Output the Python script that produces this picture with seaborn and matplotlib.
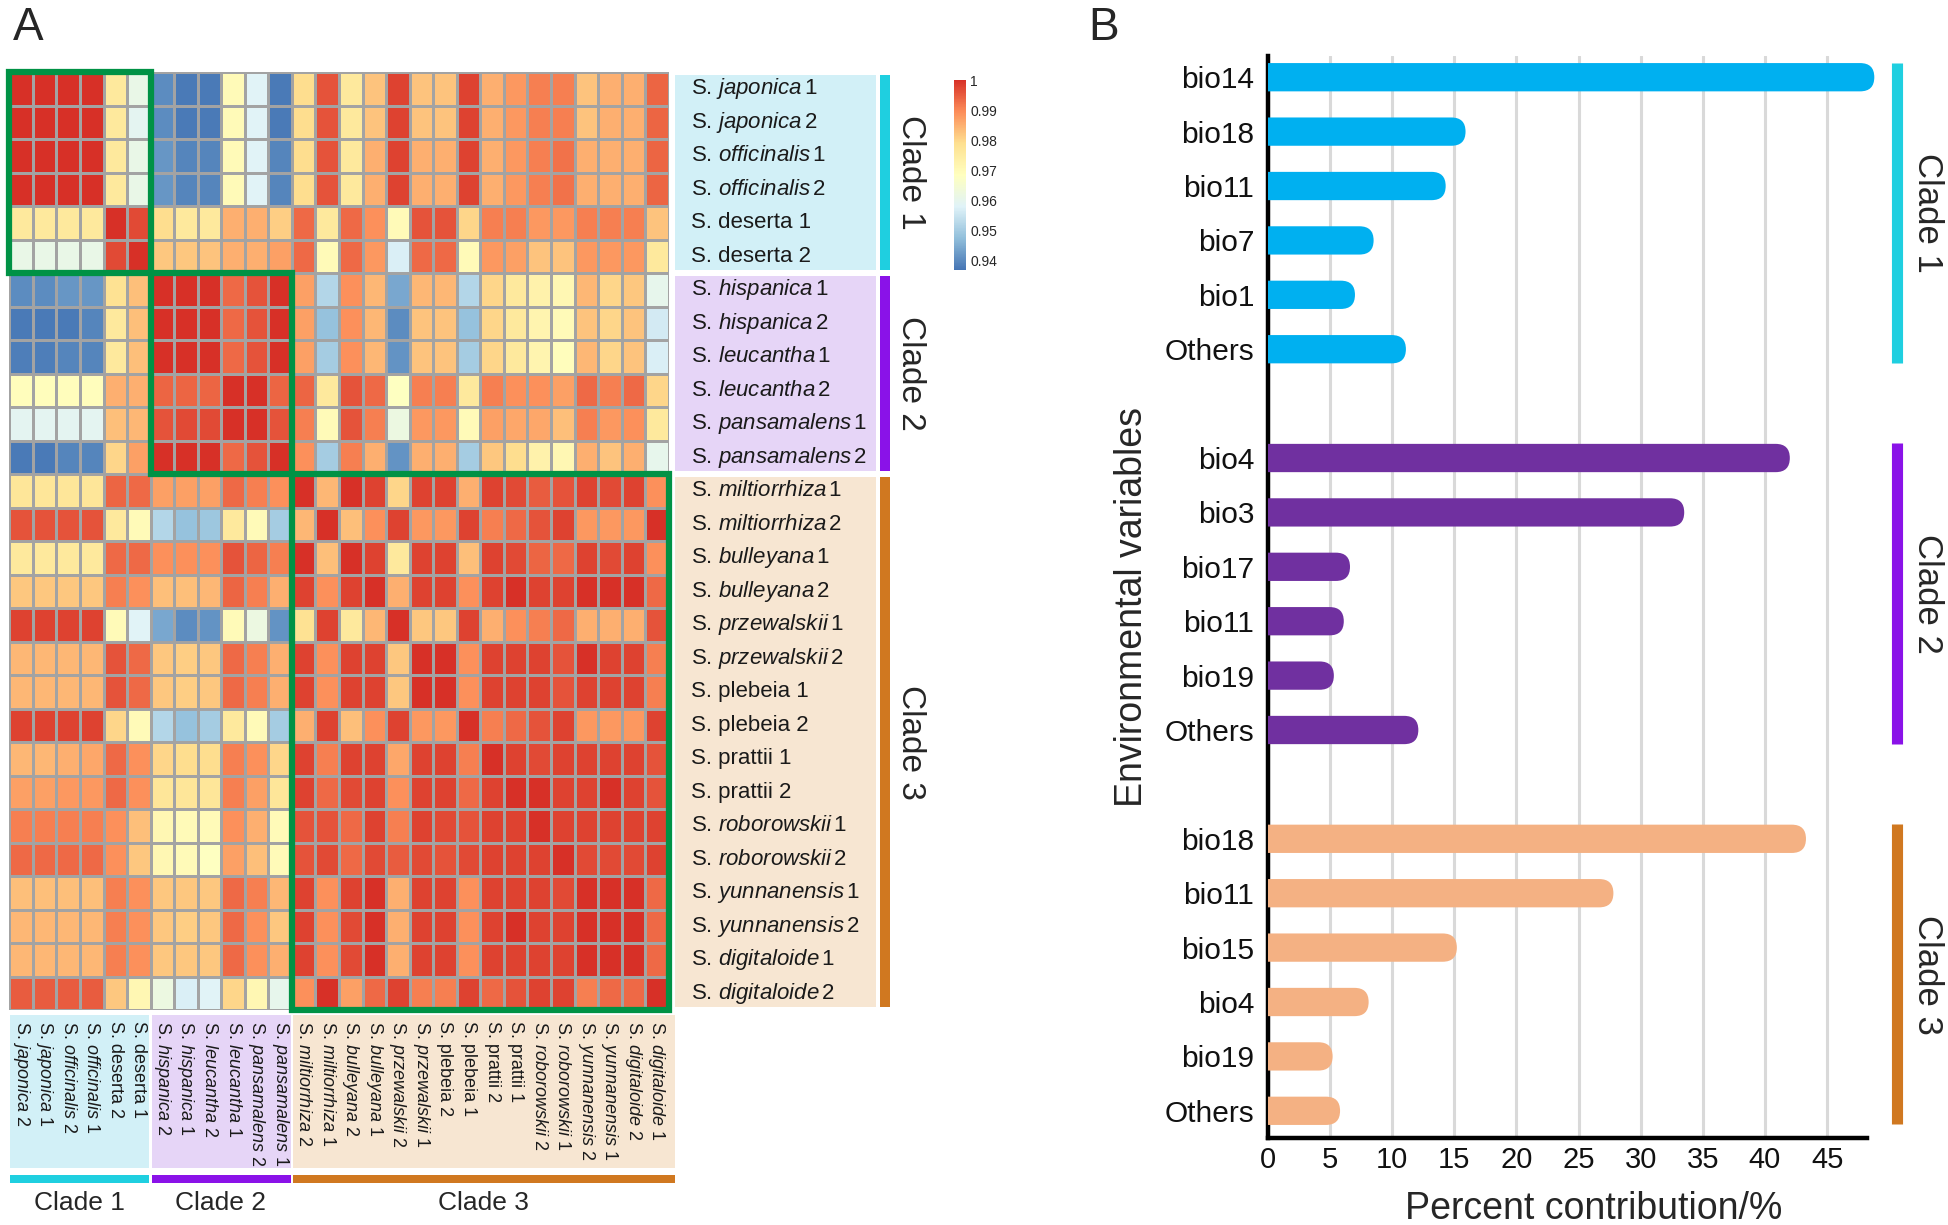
import numpy as np
import pandas as pd
import matplotlib
matplotlib.use("Agg")
import matplotlib.pyplot as plt
from matplotlib.colors import LinearSegmentedColormap
from matplotlib.patches import Rectangle, FancyBboxPatch
import seaborn as sns

sns.set_style("white")
plt.rcParams["font.family"] = ["Liberation Sans", "DejaVu Sans"]
plt.rcParams["mathtext.fontset"] = "custom"
plt.rcParams["mathtext.rm"] = "Liberation Sans"
plt.rcParams["mathtext.it"] = "Liberation Sans:italic"

# ---------------- data: panel A ----------------
species = ["japonica", "officinalis", "deserta", "hispanica", "leucantha", "pansamalens",
           "miltiorrhiza", "bulleyana", "przewalskii", "plebeia", "prattii", "roborowskii",
           "yunnanensis", "digitaloide"]
upright = ["deserta", "plebeia", "prattii"]
clades = ["Clade 1", "Clade 2", "Clade 3"]
clade_size = [6, 6, 16]
cbar_ticks = [1.0, 0.99, 0.98, 0.97, 0.96, 0.95, 0.94]
cbar_labels = ["1", "0.99", "0.98", "0.97", "0.96", "0.95", "0.94"]

corr = [
    [1.000, 1.000, 1.000, 1.000, 0.976, 0.961, 0.940, 0.9375, 0.9375, 0.970, 0.958, 0.9375, 0.979, 0.996, 0.976, 0.9825, 0.998, 0.9825, 0.9825, 0.998, 0.985, 0.988, 0.991, 0.991, 0.9825, 0.985, 0.985, 0.994],
    [1.000, 1.000, 1.000, 1.000, 0.976, 0.959, 0.940, 0.9375, 0.9375, 0.970, 0.958, 0.9375, 0.979, 0.996, 0.976, 0.9825, 0.998, 0.9825, 0.9825, 0.998, 0.985, 0.988, 0.991, 0.991, 0.9825, 0.985, 0.985, 0.994],
    [1.000, 1.000, 1.000, 1.000, 0.976, 0.961, 0.9415, 0.939, 0.939, 0.970, 0.958, 0.939, 0.979, 0.996, 0.976, 0.985, 0.998, 0.985, 0.985, 0.998, 0.985, 0.988, 0.991, 0.9925, 0.985, 0.985, 0.985, 0.994],
    [1.000, 1.000, 1.000, 1.000, 0.976, 0.961, 0.9415, 0.939, 0.939, 0.970, 0.958, 0.939, 0.979, 0.996, 0.976, 0.985, 0.998, 0.985, 0.985, 0.998, 0.985, 0.988, 0.991, 0.9925, 0.985, 0.985, 0.985, 0.994],
    [0.976, 0.976, 0.976, 0.976, 1.000, 0.997, 0.979, 0.976, 0.976, 0.985, 0.985, 0.981, 0.9935, 0.976, 0.9935, 0.989, 0.970, 0.996, 0.996, 0.980, 0.991, 0.991, 0.988, 0.988, 0.991, 0.991, 0.991, 0.9825],
    [0.961, 0.961, 0.961, 0.961, 0.997, 1.000, 0.982, 0.982, 0.9825, 0.985, 0.985, 0.987, 0.9935, 0.970, 0.9935, 0.988, 0.957, 0.9935, 0.9935, 0.970, 0.988, 0.987, 0.9825, 0.9825, 0.988, 0.988, 0.988, 0.976],
    [0.940, 0.940, 0.9415, 0.9415, 0.978, 0.983, 1.000, 1.000, 1.000, 0.9935, 0.996, 1.000, 0.987, 0.952, 0.989, 0.984, 0.944, 0.984, 0.984, 0.952, 0.980, 0.976, 0.973, 0.971, 0.984, 0.980, 0.982, 0.960],
    [0.9375, 0.9375, 0.9375, 0.939, 0.976, 0.983, 1.000, 1.000, 1.000, 0.9935, 0.996, 1.000, 0.987, 0.948, 0.989, 0.984, 0.940, 0.9825, 0.9825, 0.948, 0.980, 0.976, 0.972, 0.970, 0.9825, 0.980, 0.9825, 0.956],
    [0.938, 0.938, 0.939, 0.939, 0.976, 0.983, 1.000, 1.000, 1.000, 0.9935, 0.996, 1.000, 0.987, 0.950, 0.989, 0.984, 0.941, 0.9825, 0.9825, 0.950, 0.980, 0.976, 0.972, 0.969, 0.984, 0.980, 0.9825, 0.957],
    [0.969, 0.969, 0.969, 0.969, 0.985, 0.985, 0.994, 0.994, 0.994, 1.000, 1.000, 0.994, 0.994, 0.976, 0.996, 0.9935, 0.968, 0.991, 0.991, 0.976, 0.991, 0.989, 0.989, 0.987, 0.9935, 0.991, 0.9935, 0.980],
    [0.959, 0.959, 0.959, 0.959, 0.983, 0.984, 0.996, 0.997, 0.997, 1.000, 1.000, 0.996, 0.991, 0.970, 0.996, 0.991, 0.962, 0.988, 0.988, 0.970, 0.987, 0.986, 0.986, 0.983, 0.991, 0.988, 0.989, 0.976],
    [0.9375, 0.9375, 0.939, 0.939, 0.980, 0.987, 1.000, 1.000, 1.000, 0.9935, 0.996, 1.000, 0.989, 0.950, 0.991, 0.985, 0.941, 0.985, 0.985, 0.950, 0.982, 0.979, 0.973, 0.971, 0.985, 0.9825, 0.985, 0.960],
    [0.977, 0.977, 0.977, 0.977, 0.994, 0.9935, 0.987, 0.987, 0.987, 0.9935, 0.991, 0.989, 1.000, 0.984, 1.000, 0.998, 0.980, 0.998, 0.998, 0.985, 0.998, 0.997, 0.995, 0.996, 0.998, 0.997, 0.998, 0.989],
    [0.996, 0.996, 0.996, 0.996, 0.976, 0.970, 0.952, 0.948, 0.949, 0.976, 0.970, 0.950, 0.984, 1.000, 0.983, 0.989, 0.998, 0.988, 0.988, 0.998, 0.991, 0.9935, 0.996, 0.998, 0.988, 0.988, 0.988, 1.000],
    [0.976, 0.976, 0.976, 0.976, 0.9935, 0.9935, 0.989, 0.989, 0.989, 0.996, 0.994, 0.991, 1.000, 0.983, 1.000, 0.998, 0.976, 0.998, 0.998, 0.983, 0.998, 0.997, 0.994, 0.9935, 0.998, 0.997, 0.998, 0.989],
    [0.982, 0.982, 0.982, 0.982, 0.991, 0.989, 0.983, 0.983, 0.984, 0.994, 0.991, 0.985, 0.998, 0.989, 0.998, 1.000, 0.985, 0.998, 0.998, 0.989, 0.998, 1.000, 0.998, 0.998, 1.000, 1.000, 1.000, 0.9935],
    [0.998, 0.998, 0.998, 0.998, 0.970, 0.958, 0.944, 0.940, 0.941, 0.970, 0.962, 0.941, 0.978, 0.998, 0.976, 0.984, 1.000, 0.982, 0.982, 0.998, 0.985, 0.989, 0.991, 0.9935, 0.985, 0.985, 0.985, 0.996],
    [0.984, 0.984, 0.984, 0.984, 0.996, 0.9935, 0.982, 0.981, 0.982, 0.9935, 0.991, 0.985, 0.998, 0.989, 0.998, 0.998, 0.982, 1.000, 1.000, 0.989, 0.998, 0.998, 0.998, 0.996, 1.000, 0.998, 0.998, 0.991],
    [0.984, 0.984, 0.984, 0.984, 0.996, 0.9935, 0.982, 0.981, 0.982, 0.9935, 0.991, 0.985, 0.998, 0.989, 0.998, 0.998, 0.982, 1.000, 1.000, 0.989, 0.998, 0.998, 0.998, 0.996, 0.998, 0.998, 0.998, 0.991],
    [0.998, 0.998, 0.998, 0.998, 0.980, 0.970, 0.952, 0.948, 0.950, 0.976, 0.970, 0.950, 0.985, 0.998, 0.983, 0.989, 0.998, 0.988, 0.988, 1.000, 0.991, 0.9935, 0.996, 0.998, 0.988, 0.988, 0.988, 0.998],
    [0.984, 0.984, 0.985, 0.986, 0.9935, 0.989, 0.980, 0.979, 0.979, 0.991, 0.989, 0.980, 0.998, 0.991, 0.998, 0.998, 0.986, 0.998, 0.998, 0.991, 1.000, 0.998, 0.997, 0.998, 0.998, 0.998, 0.998, 0.996],
    [0.987, 0.987, 0.988, 0.988, 0.9935, 0.989, 0.977, 0.977, 0.977, 0.991, 0.987, 0.977, 0.998, 0.9935, 0.997, 0.998, 0.989, 0.998, 0.998, 0.9935, 0.998, 1.000, 1.000, 0.998, 0.998, 1.000, 0.998, 0.996],
    [0.991, 0.991, 0.991, 0.991, 0.989, 0.983, 0.971, 0.970, 0.970, 0.989, 0.985, 0.970, 0.996, 0.996, 0.9935, 0.998, 0.991, 0.998, 0.997, 0.996, 0.998, 0.998, 1.000, 0.998, 0.998, 0.998, 0.998, 0.998],
    [0.9935, 0.9935, 0.9935, 0.9935, 0.989, 0.982, 0.971, 0.970, 0.968, 0.987, 0.983, 0.970, 0.996, 0.997, 0.9935, 0.997, 0.995, 0.997, 0.996, 0.997, 0.998, 0.998, 0.998, 1.000, 0.997, 0.997, 0.997, 0.998],
    [0.983, 0.983, 0.983, 0.983, 0.991, 0.989, 0.982, 0.982, 0.982, 0.9935, 0.991, 0.984, 0.998, 0.989, 0.998, 1.000, 0.985, 0.998, 0.998, 0.989, 0.998, 0.998, 0.998, 0.997, 1.000, 1.000, 1.000, 0.9935],
    [0.984, 0.984, 0.984, 0.984, 0.991, 0.989, 0.982, 0.981, 0.982, 0.9935, 0.989, 0.982, 0.998, 0.989, 0.997, 1.000, 0.985, 0.998, 0.998, 0.989, 0.998, 1.000, 0.998, 0.998, 1.000, 1.000, 1.000, 0.9935],
    [0.984, 0.984, 0.984, 0.984, 0.991, 0.989, 0.982, 0.982, 0.982, 0.9935, 0.989, 0.985, 0.998, 0.989, 0.997, 1.000, 0.985, 0.998, 0.998, 0.989, 0.998, 0.998, 0.998, 0.998, 1.000, 1.000, 1.000, 0.9935],
    [0.995, 0.995, 0.995, 0.995, 0.982, 0.971, 0.962, 0.957, 0.958, 0.980, 0.971, 0.960, 0.989, 1.000, 0.987, 0.9935, 0.998, 0.991, 0.991, 0.998, 0.9935, 0.996, 0.998, 0.998, 0.991, 0.9935, 0.9935, 1.000],
]

# ---------------- data: panel B ----------------
clade1_vars = ["bio14", "bio18", "bio11", "bio7", "bio1", "Others"]
clade1_pct = [48.8, 15.9, 14.3, 8.5, 7.0, 11.1]
clade2_vars = ["bio4", "bio3", "bio17", "bio11", "bio19", "Others"]
clade2_pct = [42.0, 33.5, 6.6, 6.1, 5.3, 12.1]
clade3_vars = ["bio18", "bio11", "bio15", "bio4", "bio19", "Others"]
clade3_pct = [43.3, 27.8, 15.2, 8.1, 5.2, 5.8]

# ---------------- styling ----------------
heat_colors = ["#4575B4", "#91BFDB", "#E0F3F8", "#FFFFBF", "#FEE090", "#FC8D59", "#D73027"]
cmap = LinearSegmentedColormap.from_list("pheat", heat_colors)
clade_line = ["#1FCFE0", "#8A12E8", "#D07820"]
clade_bg = ["#D2F0F7", "#E6D5F7", "#F7E6D2"]
bar_colors = {"Clade 1": "#00B0F0", "Clade 2": "#7030A0", "Clade 3": "#F4B183"}
box_green = "#009245"


def sp_label(name, num, gap):
    if name in upright:
        return f"S. {name} {num}"
    return f"S. $\\mathit{{{name}}}" + gap + f"$" + f"{num}"


row_labels = [sp_label(s, n, "\\,") for s in species for n in (1, 2)]
col_labels = [sp_label(s, n, "\\ ") for s in species for n in (2, 1)]
bounds = np.concatenate([[0], np.cumsum(clade_size)])
nrow = len(corr)

W, H = 1948, 1225
fig = plt.figure(figsize=(W / 100, H / 100), dpi=100)

# ---------------- panel A: heatmap ----------------
hm_l, hm_r, hm_t, hm_b = 9.3, 668.7, 72, 1010
ax_h = fig.add_axes([hm_l / W, 1 - hm_b / H, (hm_r - hm_l) / W, (hm_b - hm_t) / H])
cax = fig.add_axes([954 / W, 1 - 270 / H, 12 / W, 190 / H])
sns.heatmap(np.array(corr), ax=ax_h, cmap=cmap, vmin=0.9367, vmax=1.0,
            linewidths=0.9, linecolor="#A3A3A3", cbar_ax=cax,
            xticklabels=False, yticklabels=False, cbar_kws={"ticks": cbar_ticks})
cb = ax_h.collections[0].colorbar
cb.outline.set_visible(False)
cax.set_yticklabels(cbar_labels)
cax.tick_params(length=0, labelsize=10, pad=3)

for s, e in zip(bounds[:-1], bounds[1:]):
    ax_h.add_patch(Rectangle((s, s), e - s, e - s, fill=False, ec=box_green, lw=4.5,
                             clip_on=False, zorder=5))

# row labels on the right
ax_r = fig.add_axes([670 / W, 1 - hm_b / H, 270 / W, (hm_b - hm_t) / H])
ax_r.set_xlim(0, 270)
ax_r.set_ylim(nrow, 0)
ax_r.axis("off")
for k in range(3):
    s, e = bounds[k], bounds[k + 1]
    ax_r.add_patch(Rectangle((5, s + 0.08), 201, e - s - 0.16, color=clade_bg[k], lw=0))
    ax_r.add_patch(Rectangle((210, s + 0.1), 10, e - s - 0.2, color=clade_line[k], lw=0))
    ax_r.text(240, (s + e) / 2, clades[k], rotation=270, ha="center", va="center", fontsize=24)
for i, lab in enumerate(row_labels):
    ax_r.text(21, i + 0.5, lab, ha="left", va="center", fontsize=16, color="#1A1A1A")

# column labels underneath
ax_bt = fig.add_axes([hm_l / W, 0, (hm_r - hm_l) / W, (H - hm_b) / H])
ax_bt.set_xlim(0, nrow)
ax_bt.set_ylim(H - hm_b, 0)
ax_bt.axis("off")
for k in range(3):
    s, e = bounds[k], bounds[k + 1]
    right = e - 0.05 if k < 2 else e + 0.27
    ax_bt.add_patch(Rectangle((s + 0.05, 5), right - s - 0.05, 153, color=clade_bg[k], lw=0,
                              clip_on=False))
    ax_bt.add_patch(Rectangle((s + 0.05, 165), right - s - 0.05, 8, color=clade_line[k], lw=0,
                              clip_on=False))
    ax_bt.text((s + right) / 2, 193, clades[k], ha="center", va="center", fontsize=19)
for j, lab in enumerate(col_labels):
    ax_bt.text(j + 0.5, 11, lab, rotation=270, ha="center", va="top", fontsize=13,
               color="#1A1A1A")

fig.text(13 / W, 1 - 6 / H, "A", fontsize=33, va="top", ha="left")
fig.text(1088 / W, 1 - 6 / H, "B", fontsize=33, va="top", ha="left")

# ---------------- panel B: bar chart ----------------
groups = [(clade1_vars, clade1_pct), (clade2_vars, clade2_pct), (clade3_vars, clade3_pct)]
rows = []
for k, (vars_, pct) in enumerate(groups):
    for i, (v, p) in enumerate(zip(vars_, pct)):
        rows.append({"pos": k * 7 + i, "pct": p, "clade": clades[k], "var": v})
df_b = pd.DataFrame(rows)

xmax, ytop, ybot = 49.5, -0.39, 19.5
ax_b = fig.add_axes([1268 / W, 1 - 1138 / H, 615 / W, 1082 / H])
sns.barplot(data=df_b, x="pct", y="pos", hue="clade", palette=bar_colors, orient="h",
            native_scale=True, dodge=False, width=0.52, saturation=1, errorbar=None,
            legend=False, ax=ax_b)
ax_b.set_xlim(0, xmax)
ax_b.set_ylim(ybot, ytop)

# round off the bar ends
bb = ax_b.get_window_extent()
px_x = bb.width / xmax
px_y = bb.height / (ybot - ytop)
for p in list(ax_b.patches):
    x0, y0, w, h = p.get_x(), p.get_y(), p.get_width(), p.get_height()
    rx = 0.5 * abs(h) * px_y / px_x
    fb = FancyBboxPatch((x0 - rx, y0), w + rx, h,
                        boxstyle=f"round,pad=0,rounding_size={rx}",
                        mutation_aspect=abs(h) / (2 * rx),
                        fc=p.get_facecolor(), ec="none", zorder=3)
    p.remove()
    ax_b.add_patch(fb)

ax_b.set_xticks(range(0, 50, 5))
ax_b.set_yticks(df_b["pos"])
ax_b.set_yticklabels(df_b["var"])
ax_b.xaxis.grid(True, color="#D9D9D9", lw=2.2)
ax_b.yaxis.grid(False)
ax_b.set_axisbelow(True)
for side in ("top", "right"):
    ax_b.spines[side].set_visible(False)
for side in ("left", "bottom"):
    ax_b.spines[side].set_color("black")
    ax_b.spines[side].set_linewidth(3.2)
ax_b.spines["bottom"].set_bounds(0, 48.2)
ax_b.tick_params(axis="x", length=0, labelsize=21, pad=6)
ax_b.tick_params(axis="y", length=0, labelsize=21.5, pad=10)
for lbl in ax_b.get_xticklabels() + ax_b.get_yticklabels():
    lbl.set_color("#111111")

ax_b.set_xlabel("Percent contribution/%", fontsize=27)
ax_b.xaxis.label.set_va("baseline")
ax_b.xaxis.set_label_coords(0.53, -0.0745)
ax_b.set_ylabel("Environmental variables", fontsize=27)
ax_b.yaxis.set_label_coords(-0.192, 0.491)

# clade brackets on the right of panel B
for k in range(3):
    first = k * 7
    last = first + len(groups[k][0]) - 1
    ax_b.plot([50.6, 50.6], [first - 0.27, last + 0.25], color=clade_line[k], lw=8,
              solid_capstyle="butt", clip_on=False)
    ax_b.text(53.1, (first + last) / 2, clades[k], rotation=270, ha="center", va="center",
              fontsize=25, clip_on=False)

fig.savefig("out.png", dpi=100)
